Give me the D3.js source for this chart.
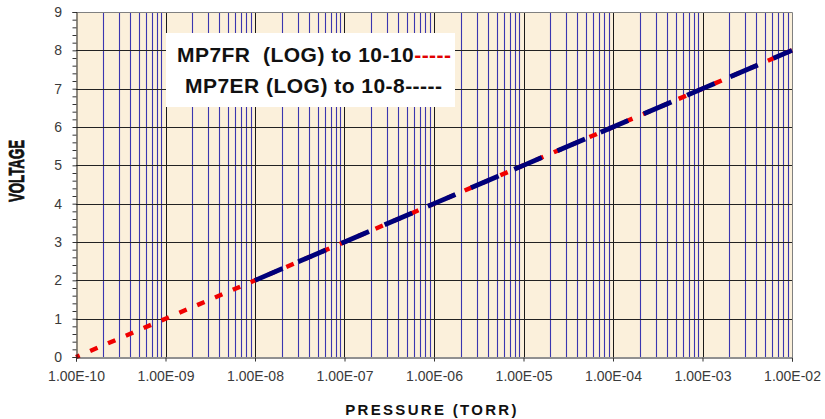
<!DOCTYPE html>
<html><head><meta charset="utf-8">
<script src="https://cdn.jsdelivr.net/npm/d3@7"></script>
<style>
html,body{margin:0;padding:0;background:#fff;}
svg{display:block;}
text{font-family:"Liberation Sans",Arial,sans-serif;}
</style></head>
<body>
<svg id="chart" width="825" height="419"></svg>
<script>
// ---- data ----
const xTickValues = [1e-10, 1e-9, 1e-8, 1e-7, 1e-6, 1e-5, 1e-4, 1e-3, 1e-2];
const xTickLabels = ["1.00E-10","1.00E-09","1.00E-08","1.00E-07","1.00E-06","1.00E-05","1.00E-04","1.00E-03","1.00E-02"];
const yTickValues = [0,1,2,3,4,5,6,7,8,9];
const mp7frPressure = [1e-10, 1e-9, 1e-8, 1e-7, 1e-6, 1e-5, 1e-4, 1e-3, 1e-2];
const mp7frVoltage  = [0, 1, 2, 3, 4, 5, 6, 7, 8];
const mp7erPressure = [1e-8, 1e-7, 1e-6, 1e-5, 1e-4, 1e-3, 1e-2];
const mp7erVoltage  = [2, 3, 4, 5, 6, 7, 8];
const legendLine1 = "MP7FR  (LOG) to 10-10";
const legendLine2 = "MP7ER (LOG) to 10-8";
const legendDash = "-----";

// ---- layout ----
const svg = d3.select("#chart");
const L = 76, R = 792, T = 12, B = 357;
const x = d3.scaleLog().domain([1e-10, 1e-2]).range([L, R]);
const y = d3.scaleLinear().domain([0, 9]).range([B, T]);

// background
svg.append("rect").attr("x", L).attr("y", T).attr("width", R - L).attr("height", B - T)
  .attr("fill", "#fbf0db");

// minor vertical gridlines
const minorX = [];
for (let e = -10; e < -2; e++) for (let m = 2; m <= 9; m++) minorX.push(m * Math.pow(10, e));
svg.append("g").selectAll("line").data(minorX).join("line")
  .attr("x1", d => Math.round(x(d)) + 0.5).attr("x2", d => Math.round(x(d)) + 0.5)
  .attr("y1", T).attr("y2", B)
  .attr("stroke", "#3a36b0").attr("stroke-width", 1.1);

// major vertical gridlines
svg.append("g").selectAll("line").data(xTickValues.slice(1, -1)).join("line")
  .attr("x1", d => Math.round(x(d)) + 0.5).attr("x2", d => Math.round(x(d)) + 0.5)
  .attr("y1", T).attr("y2", B)
  .attr("stroke", "#1a1a1a").attr("stroke-width", 1);

// horizontal gridlines
svg.append("g").selectAll("line").data(yTickValues.slice(1, -1)).join("line")
  .attr("x1", L).attr("x2", R)
  .attr("y1", d => Math.round(y(d)) + 0.5).attr("y2", d => Math.round(y(d)) + 0.5)
  .attr("stroke", "#222").attr("stroke-width", 1);

// plot border (top/right)
svg.append("path")
  .attr("d", `M${L},${T + 0.5}H${R + 0.5}V${B}`)
  .attr("fill", "none").attr("stroke", "#808080").attr("stroke-width", 1);

// lines
const line = d3.line().x(d => x(d[0])).y(d => y(d[1]));
svg.append("path")
  .datum(d3.zip(mp7frPressure, mp7frVoltage))
  .attr("d", line).attr("fill", "none")
  .attr("stroke", "#f00000").attr("stroke-width", 4.4)
  .attr("stroke-dasharray", "8,11.4").attr("stroke-dashoffset", 4);
svg.append("path")
  .datum(d3.zip(mp7erPressure, mp7erVoltage))
  .attr("d", line).attr("fill", "none")
  .attr("stroke", "#00007a").attr("stroke-width", 4.8)
  .attr("stroke-dasharray", "30,17");

// axes
const yAxis = svg.append("g").attr("transform", `translate(${L + 0.5},0)`)
  .call(d3.axisLeft(y).tickValues(d3.range(0, 9.001, 0.2)).tickSize(4).tickFormat(""));
yAxis.select(".domain").attr("stroke", "#222");
yAxis.selectAll(".tick line").attr("stroke", "#333");
svg.append("g").selectAll("text").data(yTickValues).join("text")
  .attr("x", 62).attr("y", d => y(d) + 5)
  .attr("text-anchor", "end").attr("font-size", 14).attr("fill", "#3a3a3a")
  .text(d => d);

const xAxis = svg.append("g").attr("transform", `translate(0,${B + 0.5})`)
  .call(d3.axisBottom(x).tickValues(xTickValues).tickSize(4)
    .tickFormat((d, i) => xTickLabels[i]));
xAxis.select(".domain").attr("stroke", "#222");
xAxis.selectAll(".tick line").attr("stroke", "#333");
xAxis.selectAll(".tick text").attr("font-size", 14).attr("fill", "#3a3a3a")
  .attr("font-family", "'Liberation Sans',Arial,sans-serif").attr("y", 14);

// axis titles
svg.append("text").attr("x", 432).attr("y", 415).attr("text-anchor", "middle")
  .attr("font-size", 15).attr("font-weight", "bold").attr("letter-spacing", 2.3)
  .attr("fill", "#111").text("PRESSURE (TORR)");
svg.append("text").attr("transform", "translate(24,171) rotate(-90)")
  .attr("text-anchor", "middle").attr("font-size", 22).attr("font-weight", "bold")
  .attr("font-family", "'DejaVu Sans Condensed','DejaVu Sans',sans-serif")
  .attr("textLength", 62).attr("lengthAdjust", "spacingAndGlyphs")
  .attr("stroke", "#111").attr("stroke-width", 0.7)
  .attr("fill", "#111").text("VOLTAGE");

// legend
svg.append("rect").attr("x", 166).attr("y", 33).attr("width", 289).attr("height", 74)
  .attr("fill", "#ffffff");
const l1 = svg.append("text").attr("x", 177).attr("y", 62).attr("font-size", 21)
  .attr("font-weight", "bold").style("white-space", "pre").attr("fill", "#111")
  .attr("textLength", 274).attr("lengthAdjust", "spacing");
l1.append("tspan").text(legendLine1);
l1.append("tspan").attr("fill", "#e00000").text(legendDash);
const l2 = svg.append("text").attr("x", 185).attr("y", 93).attr("font-size", 21)
  .attr("font-weight", "bold").style("white-space", "pre").attr("fill", "#111")
  .attr("textLength", 257).attr("lengthAdjust", "spacing");
l2.append("tspan").text(legendLine2);
l2.append("tspan").text(legendDash);
</script>
</body></html>
